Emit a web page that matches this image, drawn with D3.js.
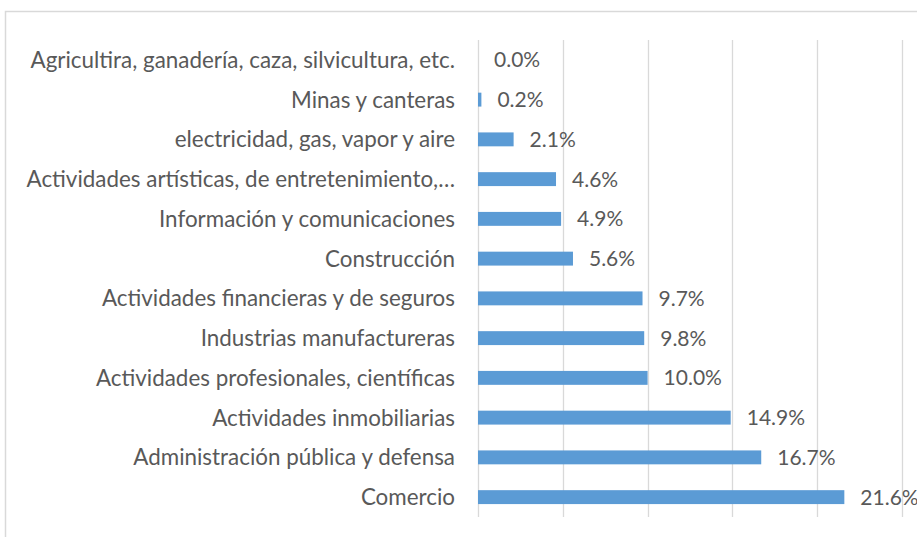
<!DOCTYPE html>
<html><head><meta charset="utf-8">
<script src="https://cdn.jsdelivr.net/npm/d3@7"></script>
<style>body{margin:0;background:#fff}svg{display:block}</style>
</head><body>
<svg id="c" width="917" height="537"></svg>
<script>
const categories = [
  "Agricultira, ganadería, caza, silvicultura, etc.",
  "Minas y canteras",
  "electricidad, gas, vapor y aire",
  "Actividades artísticas, de entretenimiento,…",
  "Información y comunicaciones",
  "Construcción",
  "Actividades financieras y de seguros",
  "Industrias manufactureras",
  "Actividades profesionales, científicas",
  "Actividades inmobiliarias",
  "Administración pública y defensa",
  "Comercio"
];
const values = [0.0, 0.2, 2.1, 4.6, 4.9, 5.6, 9.7, 9.8, 10.0, 14.9, 16.7, 21.6];
const ticks = [0, 5, 10, 15, 20, 25];

const svg = d3.select("#c");
const font = "Lato, 'Open Sans', sans-serif";
svg.append("rect").attr("x",5.5).attr("y",11.5).attr("width",930).attr("height",560)
  .attr("fill","#fff").attr("stroke","#D9D9D9").attr("stroke-width",1.5);

const x = d3.scaleLinear().domain([0,25]).range([478,902]);
const y = d3.scaleBand().domain(categories).range([40,517]).paddingInner(0.65).paddingOuter(0.325);

svg.append("g").selectAll("line").data(ticks).join("line")
  .attr("x1",d=>Math.round(x(d))+0.5).attr("x2",d=>Math.round(x(d))+0.5)
  .attr("y1",40).attr("y2",517).attr("stroke","#D9D9D9").attr("stroke-width",1.3);

svg.append("g").selectAll("rect").data(values).join("rect")
  .attr("x",x(0)).attr("y",(d,i)=>y(categories[i]))
  .attr("width",d=>x(d)-x(0)).attr("height",y.bandwidth())
  .attr("fill","#5B9BD5");

svg.append("g").selectAll("text").data(values).join("text")
  .attr("x",d=>x(d)+16).attr("y",(d,i)=>y(categories[i])+y.bandwidth()/2)
  .attr("dy","0.36em").attr("font-family",font).attr("font-size",21).attr("fill","#595959")
  .text(d=>d.toFixed(1)+"%");

svg.append("g").selectAll("text").data(categories).join("text")
  .attr("x",455).attr("y",d=>y(d)+y.bandwidth()/2)
  .attr("dy","0.36em").attr("text-anchor","end").attr("font-family",font).attr("font-size",22.4).attr("fill","#595959")
  .text(d=>d);
</script>
</body></html>
